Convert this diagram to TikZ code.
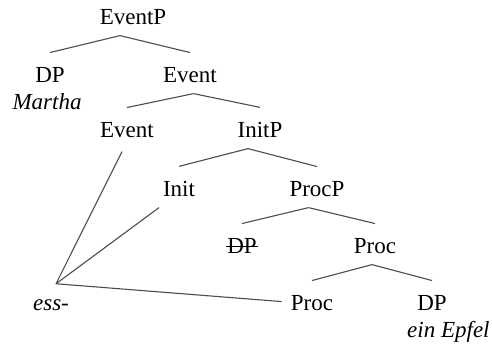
\documentclass[tikz,border=0pt]{standalone}
\usepackage{fontspec}
\setmainfont{Liberation Serif}
\usetikzlibrary{calc}

\begin{document}
\begin{tikzpicture}[x=0.5pt, y=-0.5pt,
   every node/.style={anchor=base, inner sep=0pt, font=\fontsize{11.5}{13}\selectfont},
   branch_style/.style={draw=black!70, line width=0.55pt}]
	\useasboundingbox (0,0) rectangle (492,346);

	\node (eventp) at (133,25)  {EventP};
	\node (dp1)    at (50,83)   {DP};
	\node (martha) at (47,110)  {\textit{Martha}};
	\node (event1) at (190,83)  {Event};
	\node (event2) at (127,138) {Event};
	\node (initp)  at (260,138) {InitP};
	\node (init)   at (179,197) {Init};
	\node (procp)  at (317,197) {ProcP};
	\node (dp2)    at (242,254) {DP};
	\node (proc1)  at (375,254) {Proc};
	\node (proc2)  at (312,311) {Proc};
	\node (dp3)    at (432,311) {DP};
	\node [anchor=base east] (epfel) at (490,338) {\textit{ein Epfel}};
	\node (ess)    at (51,311)  {\textit{ess-}};

	% struck-out copy
	\draw [line width=0.5pt] ([xshift=-0.5pt]dp2.west) -- ([xshift=0.5pt]dp2.east);

	\foreach \mother/\lft/\rgt in {
		eventp/dp1/event1,
		event1/event2/initp,
		initp/init/procp,
		procp/dp2/proc1,
		proc1/proc2/dp3}
	{
	  \coordinate (mid) at ($(\lft)!0.5!(\rgt)$);
	  \coordinate (apex) at (mid |- \mother.south);
	  \draw [branch_style] ([yshift=-5pt]apex) -- ([yshift=7.5pt]\lft.north);
	  \draw [branch_style] ([yshift=-5pt]apex) -- ([yshift=7.5pt]\rgt.north);
	}

	\coordinate (root) at ([xshift=2.5pt,yshift=8pt]ess.north);
	\draw [branch_style] ([xshift=-2.5pt,yshift=-6.5pt]event2.south) -- (root);
	\draw [branch_style] ([xshift=-10pt,yshift=-5pt]init.south) -- (root);
	\draw [branch_style] (root) -- ([xshift=-4.5pt,yshift=1pt]proc2.west);

\end{tikzpicture}
\end{document}
